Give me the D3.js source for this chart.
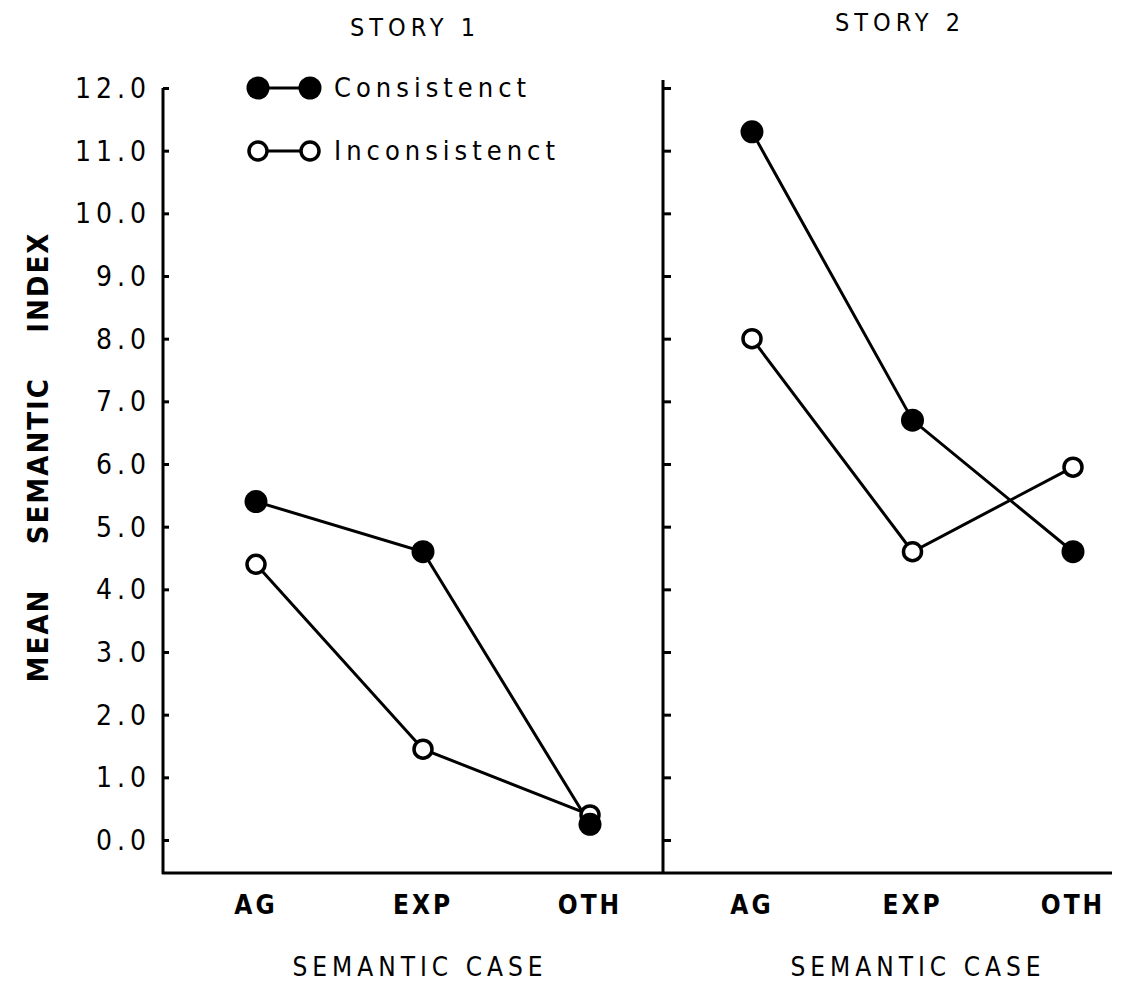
<!DOCTYPE html>
<html>
<head>
<meta charset="utf-8">
<script src="https://cdn.jsdelivr.net/npm/d3@7"></script>
<style>
  body { margin: 0; background: #fff; }
  svg text { font-family: "Liberation Sans Narrow", "DejaVu Sans Condensed", "Liberation Sans", sans-serif; fill: #000; }
</style>
</head>
<body>
<svg id="chart" width="1121" height="982"></svg>
<script>
// data
var cases = ['AG', 'EXP', 'OTH'];
var story1Consistent = [5.4, 4.6, 0.25];
var story1Inconsistent = [4.4, 1.45, 0.4];
var story2Consistent = [11.3, 6.7, 4.6];
var story2Inconsistent = [8.0, 4.6, 5.95];
var yTicks = [0, 1, 2, 3, 4, 5, 6, 7, 8, 9, 10, 11, 12];
var panelTitles = ['STORY 1', 'STORY 2'];
var legendLabels = ['Consistenct', 'Inconsistenct'];

var svg = d3.select('#chart');

var y = d3.scaleLinear().domain([0, 12]).range([840, 88]);
var bottom = 873;

var panels = [
    { title: panelTitles[0], x: d3.scalePoint().domain(cases).range([256, 590]), axisX: 163, top: 88,
      cons: story1Consistent, inc: story1Inconsistent, titleX: 415, titleY: 36, xlabelX: 420 },
    { title: panelTitles[1], x: d3.scalePoint().domain(cases).range([752, 1073]), axisX: 663, top: 80,
      cons: story2Consistent, inc: story2Inconsistent, titleX: 900, titleY: 31, xlabelX: 918 }
];

var line = function(xs, vals) {
    return d3.line()
        .x(function(d, i) { return xs(cases[i]); })
        .y(function(d) { return y(d); })(vals);
};

panels.forEach(function(p, pi) {
    // vertical axis line
    svg.append('line')
        .attr('x1', p.axisX).attr('x2', p.axisX)
        .attr('y1', p.top).attr('y2', bottom + 1)
        .attr('stroke', '#000').attr('stroke-width', 3);

    // ticks pointing right
    var yAxis = d3.axisRight(y).tickValues(yTicks).tickSize(pi === 0 ? 6 : 8).tickFormat('');
    var g = svg.append('g')
        .attr('transform', 'translate(' + p.axisX + ',0)')
        .call(yAxis);
    g.select('.domain').remove();
    g.selectAll('.tick line').attr('stroke', '#000').attr('stroke-width', 3);

    // panel title
    svg.append('text')
        .attr('x', p.titleX).attr('y', p.titleY)
        .attr('text-anchor', 'middle')
        .style('font-size', '25px').style('letter-spacing', '5px')
        .text(p.title);

    // category labels
    svg.append('g').selectAll('text').data(cases).enter().append('text')
        .attr('x', function(d) { return p.x(d); })
        .attr('y', 914)
        .attr('text-anchor', 'middle')
        .style('font-size', '26px').style('font-weight', 'bold').style('letter-spacing', '3px')
        .text(function(d) { return d; });

    svg.append('text')
        .attr('x', p.xlabelX).attr('y', 976)
        .attr('text-anchor', 'middle')
        .style('font-size', '26px').style('letter-spacing', '5px')
        .text('SEMANTIC CASE');

    // series lines
    svg.append('path').attr('d', line(p.x, p.cons))
        .attr('fill', 'none').attr('stroke', '#000').attr('stroke-width', 3);
    svg.append('path').attr('d', line(p.x, p.inc))
        .attr('fill', 'none').attr('stroke', '#000').attr('stroke-width', 3);

    // markers: open first, filled on top
    svg.append('g').selectAll('circle').data(p.inc).enter().append('circle')
        .attr('cx', function(d, i) { return p.x(cases[i]); })
        .attr('cy', function(d) { return y(d); })
        .attr('r', 9).attr('fill', '#fff').attr('stroke', '#000').attr('stroke-width', 3.5);
    svg.append('g').selectAll('circle').data(p.cons).enter().append('circle')
        .attr('cx', function(d, i) { return p.x(cases[i]); })
        .attr('cy', function(d) { return y(d); })
        .attr('r', 11.5).attr('fill', '#000');
});

// bottom axis line
svg.append('line')
    .attr('x1', 162).attr('x2', 1112)
    .attr('y1', bottom).attr('y2', bottom)
    .attr('stroke', '#000').attr('stroke-width', 3);

// y tick labels (left panel only)
svg.append('g').selectAll('text').data(yTicks).enter().append('text')
    .attr('x', 151)
    .attr('y', function(d) { return y(d) + 10; })
    .attr('text-anchor', 'end')
    .style('font-size', '28px').style('letter-spacing', '5px')
    .text(function(d) { return d3.format('.1f')(d); });

// y axis title
svg.append('text')
    .attr('transform', 'translate(48,457) rotate(-90)')
    .attr('text-anchor', 'middle')
    .style('font-size', '29px').style('font-weight', 'bold').style('letter-spacing', '2px')
    .attr('xml:space', 'preserve')
    .text('MEAN    SEMANTIC    INDEX');

// legend
var legend = svg.append('g');
[0, 1].forEach(function(i) {
    var ly = 88 + i * 63;
    legend.append('line')
        .attr('x1', 258).attr('x2', 310).attr('y1', ly).attr('y2', ly)
        .attr('stroke', '#000').attr('stroke-width', 3);
    [258, 310].forEach(function(cx) {
        if (i === 0) {
            legend.append('circle').attr('cx', cx).attr('cy', ly).attr('r', 11.5).attr('fill', '#000');
        } else {
            legend.append('circle').attr('cx', cx).attr('cy', ly).attr('r', 9)
                .attr('fill', '#fff').attr('stroke', '#000').attr('stroke-width', 3.5);
        }
    });
    legend.append('text')
        .attr('x', 334).attr('y', ly + 9)
        .style('font-size', '27px').style('letter-spacing', '5px')
        .text(legendLabels[i]);
});
</script>
</body>
</html>
